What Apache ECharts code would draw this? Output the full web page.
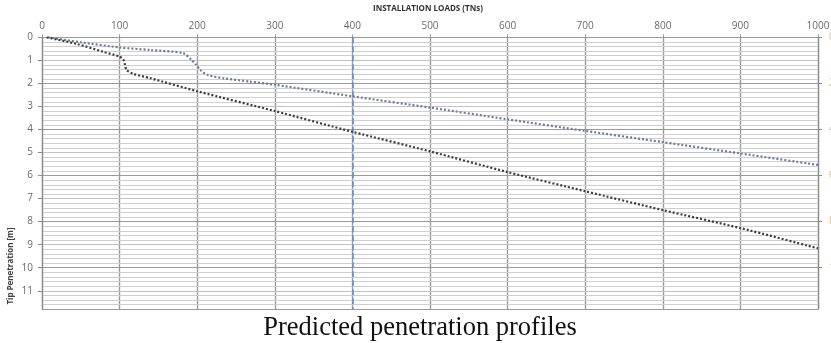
<!DOCTYPE html>
<html>
<head>
<meta charset="utf-8">
<script src="https://cdn.jsdelivr.net/npm/echarts@6/dist/echarts.min.js"></script>
<style>
  html, body { margin: 0; padding: 0; background: #fff; }
  #chart { width: 831px; height: 343px; }
</style>
</head>
<body>
<div id="chart"></div>
<script>
// Installation load (TNs) vs. tip penetration (m)
const upperLoads = [8, 50, 100, 139, 182, 193, 199, 204, 214, 234, 268, 300, 400, 500, 600, 700, 800, 900, 1000];
const upperPen   = [0, 0.22, 0.44, 0.55, 0.69, 0.99, 1.20, 1.42, 1.64, 1.78, 1.92, 2.06, 2.56, 3.05, 3.56, 4.06, 4.55, 5.04, 5.54];

const lowerLoads = [6, 45, 79, 100, 105, 107, 109, 118, 139, 201, 300, 400, 500, 600, 700, 800, 900, 1000];
const lowerPen   = [0, 0.29, 0.63, 0.84, 0.98, 1.20, 1.42, 1.59, 1.77, 2.35, 3.20, 4.10, 4.95, 5.85, 6.68, 7.50, 8.28, 9.16];

const loadTicks = [0, 100, 200, 300, 400, 500, 600, 700, 800, 900, 1000];
const depthMax = 11.8;
const referenceLoad = 400;

const pairs = (xs, ys) => xs.map((x, i) => [x, ys[i]]);

const FONT = '"Open Sans", "Liberation Sans", sans-serif';
const chart = echarts.init(document.getElementById('chart'), null, { renderer: 'canvas' });

chart.setOption({
  animation: false,
  backgroundColor: '#ffffff',
  grid: { left: 42, right: 13, top: 37.3, bottom: 33.8, containLabel: false, outerBoundsMode: 'none' },
  xAxis: {
    type: 'value',
    position: 'top',
    min: loadTicks[0],
    max: loadTicks[loadTicks.length - 1],
    interval: 100,
    axisLine: { show: false },
    axisTick: { show: true, length: 3, lineStyle: { color: '#999' } },
    axisLabel: { color: '#6a6a6a', fontFamily: FONT, fontSize: 10, margin: 6, formatter: v => String(v) },
    splitLine: { show: true, lineStyle: { color: '#9c9c9c', width: 1.4 } }
  },
  yAxis: [
    {
      type: 'value',
      inverse: true,
      min: 0,
      max: depthMax,
      interval: 1,
      axisLine: { show: true, lineStyle: { color: '#8c8c8c', width: 1.2 } },
      axisTick: { show: true, length: 4, lineStyle: { color: '#8c8c8c' } },
      axisLabel: { color: '#6a6a6a', fontFamily: FONT, fontSize: 10, margin: 9, showMaxLabel: false, interval: 0 },
      splitLine: { show: true, lineStyle: { color: ['#9a9a9a', '#c2c2c2'], width: 1.2 } },
      z: 3
    },
    {
      // fine 0.2 m grid
      type: 'value',
      inverse: true,
      min: 0,
      max: depthMax,
      interval: 0.2,
      axisLine: { show: false },
      axisTick: { show: false },
      axisLabel: { show: false },
      splitLine: { show: true, lineStyle: { color: '#cfcfcf', width: 1 } },
      z: 1
    },
    {
      type: 'value',
      position: 'right',
      inverse: true,
      min: 0,
      max: depthMax,
      interval: 2,
      axisLine: { show: true, lineStyle: { color: '#8c8c8c', width: 1.2 } },
      axisTick: { show: true, length: 4, lineStyle: { color: '#8c8c8c' } },
      axisLabel: { color: '#e6b277', fontFamily: FONT, fontSize: 10, margin: 11, showMaxLabel: false, interval: 0 },
      splitLine: { show: false }
    }
  ],
  series: [
    {
      name: 'Profile A',
      type: 'line',
      yAxisIndex: 0,
      data: pairs(upperLoads, upperPen),
      showSymbol: false,
      smooth: 0.25,
      lineStyle: { color: '#6c7d99', width: 2.2, type: [2, 2] },
      markLine: {
        silent: true,
        symbol: 'none',
        label: { show: false },
        lineStyle: { color: '#5b8fd3', width: 1.6, type: [6, 3] },
        data: [{ xAxis: referenceLoad }]
      },
      z: 5
    },
    {
      name: 'Profile B',
      type: 'line',
      yAxisIndex: 0,
      data: pairs(lowerLoads, lowerPen),
      showSymbol: false,
      smooth: 0.25,
      lineStyle: { color: '#3c3c3c', width: 2.2, type: [2, 2] },
      z: 5
    }
  ],
  graphic: [
    {
      type: 'text',
      left: 373, top: 5,
      style: { text: 'INSTALLATION LOADS (TNs)', fontFamily: FONT, fontWeight: 'bold', fontSize: 8, fill: '#333' }
    },
    {
      type: 'text',
      x: 11, y: 266,
      rotation: Math.PI / 2,
      style: { text: 'Tip Penetration [m]', fontFamily: FONT, fontWeight: 'bold', fontSize: 8, fill: '#444', align: 'center', verticalAlign: 'middle' }
    },
    {
      type: 'text',
      x: 420, y: 328,
      style: { text: 'Predicted penetration profiles', fontFamily: '"Liberation Serif", "DejaVu Serif", serif', fontSize: 26.5, fill: '#111', align: 'center', verticalAlign: 'middle' }
    }
  ]
});
</script>
</body>
</html>
